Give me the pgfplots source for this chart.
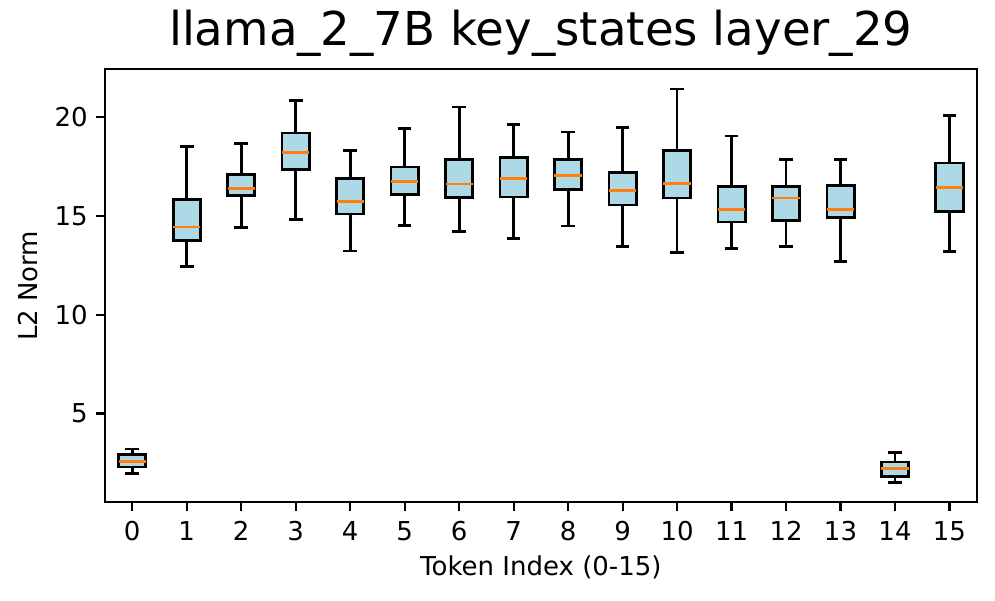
\documentclass[border=0pt]{standalone}
\usepackage{pgfplots}
\pgfplotsset{compat=1.18}
\usepgfplotslibrary{statistics}
\usepackage{fontspec}
\setmainfont{DejaVu Sans}
\definecolor{boxfill}{RGB}{173,216,230}
\definecolor{medorange}{RGB}{255,127,14}

\begin{document}
\begin{tikzpicture}
\begin{axis}[
  scale only axis,
  width=653.8pt, height=324.75pt,
  xmin=-0.5, xmax=15.5,
  ymin=0.50, ymax=22.42,
  xtick={0,...,15},
  ytick={5,10,15,20},
  tick align=outside, tick pos=left,
  major tick length=6.5pt,
  axis line style={line width=1.6pt},
  every tick/.style={black, line width=1.6pt},
  /pgf/number format/assume math mode=true,
  ticklabel style={font=\fontsize{19.5}{23}\selectfont},
  xticklabel style={yshift=-4pt},
  yticklabel style={xshift=-3pt},
  every axis x label/.style={at={(rel axis cs:0.5,0)}, yshift=-54.5pt, anchor=base,
    font=\fontsize{19.5}{23}\selectfont},
  every axis y label/.style={at={(rel axis cs:0,0.5)}, xshift=-50.8pt, rotate=90, anchor=base,
    font=\fontsize{19.5}{23}\selectfont},
  title style={font=\fontsize{35}{42}\selectfont, at={(0.5,1)}, anchor=base, yshift=11.5pt},
  title={llama\_2\_7B key\_states layer\_29},
  xlabel={Token Index (0-15)},
  ylabel={L2 Norm},
  boxplot/draw direction=y,
  boxplot/box extend=0.5,
  boxplot/whisker extend=0.25,
  boxplot/every box/.style={draw=black, fill=boxfill, line width=2.1pt},
  boxplot/every whisker/.style={draw=black, line width=2.1pt},
  boxplot/every median/.style={draw=medorange, line width=2.1pt},
  every axis plot/.append style={black, line width=2.1pt},
]
\coordinate (sw) at (rel axis cs:0,0);
\coordinate (ne) at (rel axis cs:1,1);

% token, lower whisker, lower quartile, median, upper quartile, upper whisker
\addplot[boxplot prepared={draw position=0, lower whisker=1.94, lower quartile=2.29, median=2.58, upper quartile=2.92, upper whisker=3.20}] coordinates {};
\addplot[boxplot prepared={draw position=1, lower whisker=12.45, lower quartile=13.76, median=14.44, upper quartile=15.82, upper whisker=18.51}] coordinates {};
\addplot[boxplot prepared={draw position=2, lower whisker=14.41, lower quartile=16.05, median=16.40, upper quartile=17.11, upper whisker=18.65}] coordinates {};
\addplot[boxplot prepared={draw position=3, lower whisker=14.83, lower quartile=17.33, median=18.19, upper quartile=19.20, upper whisker=20.86}] coordinates {};
\addplot[boxplot prepared={draw position=4, lower whisker=13.22, lower quartile=15.10, median=15.74, upper quartile=16.91, upper whisker=18.33}] coordinates {};
\addplot[boxplot prepared={draw position=5, lower whisker=14.51, lower quartile=16.08, median=16.76, upper quartile=17.48, upper whisker=19.41}] coordinates {};
\addplot[boxplot prepared={draw position=6, lower whisker=14.22, lower quartile=15.93, median=16.62, upper quartile=17.85, upper whisker=20.51}] coordinates {};
\addplot[boxplot prepared={draw position=7, lower whisker=13.87, lower quartile=15.96, median=16.91, upper quartile=17.95, upper whisker=19.63}] coordinates {};
\addplot[boxplot prepared={draw position=8, lower whisker=14.49, lower quartile=16.33, median=17.04, upper quartile=17.84, upper whisker=19.25}] coordinates {};
\addplot[boxplot prepared={draw position=9, lower whisker=13.46, lower quartile=15.55, median=16.30, upper quartile=17.21, upper whisker=19.47}] coordinates {};
\addplot[boxplot prepared={draw position=10, lower whisker=13.16, lower quartile=15.91, median=16.65, upper quartile=18.33, upper whisker=21.42}] coordinates {};
\addplot[boxplot prepared={draw position=11, lower whisker=13.33, lower quartile=14.69, median=15.32, upper quartile=16.47, upper whisker=19.05}] coordinates {};
\addplot[boxplot prepared={draw position=12, lower whisker=13.46, lower quartile=14.76, median=15.91, upper quartile=16.47, upper whisker=17.87}] coordinates {};
\addplot[boxplot prepared={draw position=13, lower whisker=12.70, lower quartile=14.93, median=15.34, upper quartile=16.53, upper whisker=17.84}] coordinates {};
\addplot[boxplot prepared={draw position=14, lower whisker=1.50, lower quartile=1.80, median=2.21, upper quartile=2.54, upper whisker=3.02}] coordinates {};
\addplot[boxplot prepared={draw position=15, lower whisker=13.19, lower quartile=15.22, median=16.45, upper quartile=17.68, upper whisker=20.07}] coordinates {};
\end{axis}
\pgfresetboundingbox
\path[use as bounding box] ([shift={(-78.75pt,-73.3pt)}]sw) rectangle ([shift={(13.7pt,52pt)}]ne);
\end{tikzpicture}
\end{document}
